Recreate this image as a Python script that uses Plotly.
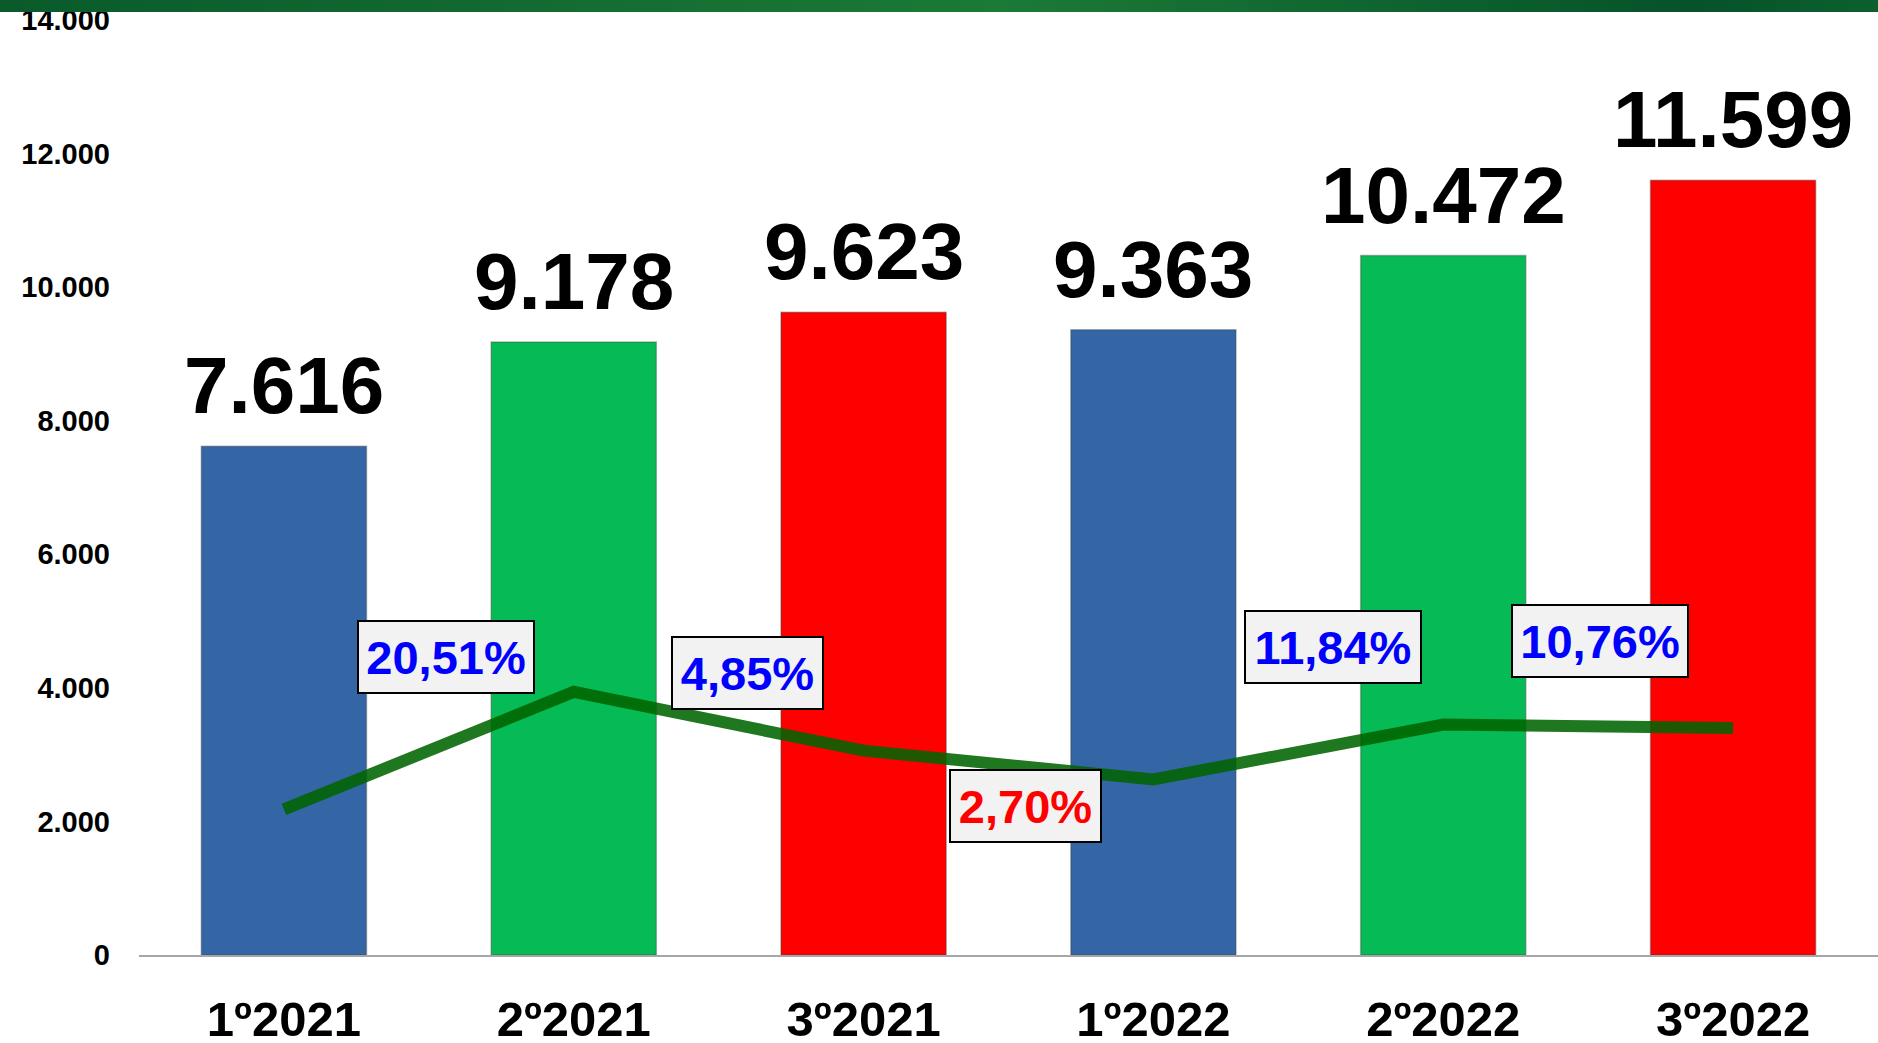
import plotly.graph_objects as go

# data
quarters = ["1º2021", "2º2021", "3º2021", "1º2022", "2º2022", "3º2022"]
totals = [7616, 9178, 9623, 9363, 10472, 11599]
trend = [2180, 3940, 3060, 2630, 3450, 3400]
growth_labels = ["20,51%", "4,85%", "2,70%", "11,84%", "10,76%"]
growth_colors = ["blue", "blue", "red", "blue", "blue"]
y_ticks = [0, 2000, 4000, 6000, 8000, 10000, 12000, 14000]

bar_colors = ["#3466a6", "#06bb55", "#ff0000", "#3466a6", "#06bb55", "#ff0000"]
FONT = "Liberation Sans, Arial"
W, H = 1878, 1043
ML, MT, MB = 139, 20, 88
PLOT_W, PLOT_H = W - ML, H - MT - MB


def fmt(v):
    return f"{v:,}".replace(",", ".")


def band_color(px):
    # dark green header band, lighter in the middle
    stops = [(0, (10, 90, 43)), (1000, (27, 122, 54)), (1700, (6, 82, 42)), (1878, (12, 96, 46))]
    for (a, ca), (b, cb) in zip(stops, stops[1:]):
        if a <= px <= b:
            t = (px - a) / (b - a)
            c = [round(ca[k] + (cb[k] - ca[k]) * t) for k in range(3)]
            return f"rgb({c[0]},{c[1]},{c[2]})"
    return "rgb(12,96,46)"


fig = go.Figure()
fig.add_trace(go.Bar(
    x=quarters, y=totals,
    marker=dict(color=bar_colors, line=dict(color="rgba(60,60,60,0.35)", width=1.5)),
    width=0.57,
    hoverinfo="x+y",
))
fig.add_trace(go.Scatter(
    x=quarters, y=trend, mode="lines",
    line=dict(color="rgba(0,100,0,0.88)", width=12),
    hoverinfo="skip",
))

annotations = []
for q, v in zip(quarters, totals):
    annotations.append(dict(
        x=q, y=v, xref="x", yref="y", text=f"<b>{fmt(v)}</b>",
        showarrow=False, yanchor="bottom", yshift=14,
        font=dict(family=FONT, size=80, color="black"),
    ))

# growth boxes sit between consecutive bars
box_dx = [0.56, 0.60, 0.56, 0.62, 0.54]
box_y = [4460, 4220, 2230, 4610, 4700]
for i, (txt, col) in enumerate(zip(growth_labels, growth_colors)):
    annotations.append(dict(
        x=i + box_dx[i], y=box_y[i], xref="x", yref="y", text=f"<b>{txt}</b>",
        showarrow=False, xanchor="center", yanchor="middle",
        font=dict(family=FONT, size=47, color=col),
        bgcolor="#f2f2f2", bordercolor="black", borderwidth=2,
        width=len(txt) * 25 + 22, height=68,
    ))

shapes = []
seg = 24
for k in range(0, W, seg):
    shapes.append(dict(
        type="rect", xref="paper", yref="paper",
        x0=(k - ML) / PLOT_W, x1=(k + seg + 1 - ML) / PLOT_W,
        y0=1 + (MT - 12) / PLOT_H, y1=1 + (MT + 1) / PLOT_H,
        fillcolor=band_color(k + seg / 2), line_width=0, layer="above",
    ))

fig.update_layout(
    width=W, height=H,
    margin=dict(l=ML, r=0, t=MT, b=MB, autoexpand=False),
    paper_bgcolor="white", plot_bgcolor="white",
    showlegend=False,
    bargap=0.43,
    annotations=annotations,
    shapes=shapes,
    font=dict(family=FONT, color="black"),
)
fig.update_xaxes(
    type="category", range=[-0.5, 5.5], automargin=False,
    showgrid=False, showline=True, linecolor="#a6a6a6", linewidth=2,
    ticks="", ticklabelstandoff=20,
    tickfont=dict(family=FONT, size=49, color="black"),
    tickprefix="<b>", ticksuffix="</b>",
)
fig.update_yaxes(
    range=[0, 14000], tickvals=y_ticks, ticktext=[f"<b>{fmt(t)}</b>" for t in y_ticks],
    showgrid=False, zeroline=False, showline=False, automargin=False,
    ticklabelstandoff=28,
    tickfont=dict(family=FONT, size=29, color="black"),
)

fig.write_html(
    "out.html",
    config={"displayModeBar": False},
    post_script="document.body.style.margin='0';document.body.style.overflow='hidden';",
)
